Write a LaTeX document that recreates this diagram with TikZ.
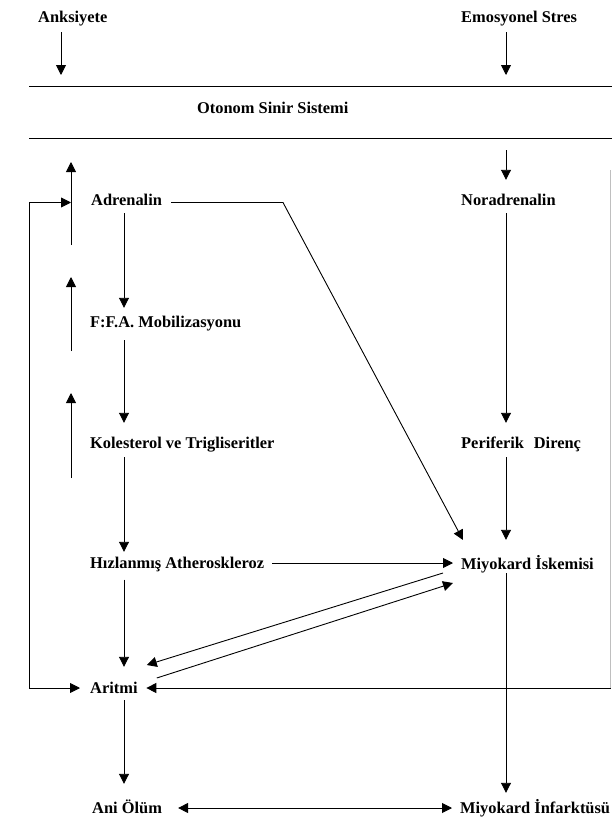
\documentclass[tikz,border=0pt]{standalone}
\usepackage{fontspec}
\setmainfont{Liberation Serif}
\usetikzlibrary{arrows.meta,calc}
\tikzset{
  lbl/.style={anchor=west, inner sep=0pt, text height=11pt, text depth=0pt,
              font=\fontsize{16.4}{18}\selectfont\bfseries},
  ln/.style={line width=0.9pt, draw=black},
  arr/.style={ln, -{Triangle[length=10pt,width=10pt]}},
  darr/.style={ln, {Triangle[length=10pt,width=10pt]}-{Triangle[length=10pt,width=10pt]}},
}
\begin{document}
\begin{tikzpicture}[x=1pt,y=-1pt]
\useasboundingbox (0,0) rectangle (611,819);
\fill[white] (0,0) rectangle (611,819);

% columns
\coordinate (cA) at (61,0);
\coordinate (cL) at (124,0);
\coordinate (cR) at (506,0);
\coordinate (cE) at (29,0);

% labels
\node[lbl] (anks) at (38,17)  {Anksiyete};
\node[lbl] (emo)  at (461,17) {Emosyonel Stres};
\node[lbl] (oto)  at (197,108) {Otonom Sinir Sistemi};
\node[lbl] (adr)  at (91,200) {Adrenalin};
\node[lbl] (nor)  at (461,200) {Noradrenalin};
\node[lbl] (ffa)  at (90,322) {F:F.A. Mobilizasyonu};
\node[lbl] (kol)  at (90,443) {Kolesterol ve Trigliseritler};
\node[lbl] (per)  at (461,443) {Periferik\hspace{0.6em}Direnç};
\node[lbl] (hiz)  at (90,563) {Hızlanmış Atheroskleroz};
\node[lbl] (iske) at (461,564) {Miyokard İskemisi};
\node[lbl] (ari)  at (90,688) {Aritmi};
\node[lbl] (ani)  at (92,808) {Ani Ölüm};
\node[lbl] (inf)  at (460,808) {Miyokard İnfarktüsü};

% band of the autonomic nervous system
\draw[ln] (29,86.5) -- (612,86.5);
\draw[ln] (29,138.5) -- (612,138.5);

% free arrow ends
\coordinate (ankTip) at (61,75);
\coordinate (emoTip) at (506,75);
\coordinate (norIn)  at (506,150);
\coordinate (bend)   at (283,202.5);
\coordinate (adrTip) at (463,540);
\coordinate (adrFb)  at (71,202.5);
\coordinate (rTop)   at (610.5,170);

% inputs into the band
\draw[arr, shorten <=9.5pt] (anks.south -| cA) -- (ankTip);
\draw[arr, shorten <=9.5pt] (emo.south -| cR) -- (emoTip);
\draw[arr, shorten >=14.5pt] (norIn) -- (nor.north -| cR);

% left chain
\draw[arr, shorten <=7.5pt, shorten >=8.5pt]  (adr.south -| cL) -- (ffa.north -| cL);
\draw[arr, shorten <=12.5pt, shorten >=14.5pt] (ffa.south -| cL) -- (kol.north -| cL);
\draw[arr, shorten <=8.5pt, shorten >=5.5pt]  (kol.south -| cL) -- (hiz.north -| cL);
\draw[arr, shorten <=11pt, shorten >=15.5pt]  (hiz.south -| cL) -- (ari.north -| cL);
\draw[arr, shorten <=6.5pt, shorten >=18.5pt] (ari.south -| cL) -- (ani.north -| cL);

% right chain
\draw[arr, shorten <=7.5pt, shorten >=14.5pt] (nor.south -| cR) -- (per.north -| cR);
\draw[arr, shorten <=8.5pt, shorten >=18.5pt] (per.south -| cR) -- (iske.north -| cR);
\draw[arr, shorten <=3.5pt, shorten >=9.5pt]  (iske.south -| cR) -- (inf.north -| cR);

% cross links
\draw[arr, shorten <=9pt] (adr.east |- bend) -- (bend) -- (adrTip);
\draw[arr, shorten <=8pt, shorten >=8pt] (hiz.east) -- (iske.west |- hiz.east);
\draw[arr] ($(iske.west)+(-18,9)$) -- ($(ari.east)+(9,-23)$);
\draw[arr] ($(ari.east)+(19,-10)$) -- ($(iske.west)+(-8,19)$);
\draw[darr, shorten <=16pt, shorten >=8pt] (ani.east) -- (inf.west);

% rising arrows beside the left chain
\coordinate (u1b) at (71,245); \coordinate (u1t) at (71,162);
\coordinate (u2b) at (71,351); \coordinate (u2t) at (71,277);
\coordinate (u3b) at (71,478); \coordinate (u3t) at (71,393);
\draw[arr] (u1b) -- (u1t);
\draw[arr] (u2b) -- (u2t);
\draw[arr] (u3b) -- (u3t);

% feedback loops into Aritmi
\draw[darr, shorten >=10pt] (adrFb) -- (adrFb -| cE) |- (ari.west);
\draw[ln, draw=black!25] (rTop) -- (rTop |- ari.east);
\draw[arr, shorten >=8.6pt] (rTop |- ari.east) -- (ari.east);
\end{tikzpicture}
\end{document}
